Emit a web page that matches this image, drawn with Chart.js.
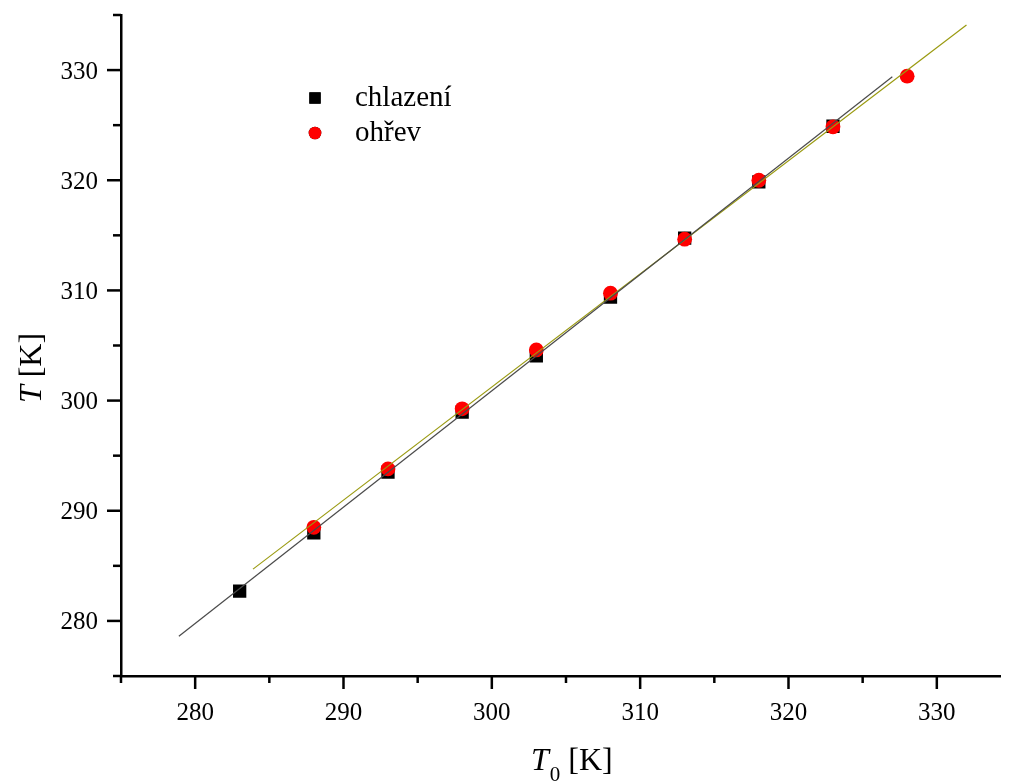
<!DOCTYPE html>
<html>
<head>
<meta charset="utf-8">
<title>T vs T0</title>
<script src="https://cdn.jsdelivr.net/npm/chart.js@4/dist/chart.umd.min.js"></script>
<style>
  html, body { margin: 0; padding: 0; background: #fff; }
  #wrap { width: 1010px; height: 784px; }
</style>
</head>
<body>
<div id="wrap"><canvas id="chart" width="1010" height="784"></canvas></div>
<script>
// measured points, T0 -> T
const coolT0 = [283, 288, 293, 298, 303, 308, 313, 318, 323];
const coolT = [282.7, 288.0, 293.5, 298.95, 304.05, 309.4, 314.75, 319.85, 324.9];
const heatT0 = [288, 293, 298, 303, 308, 313, 318, 323, 328];
const heatT = [288.5, 293.8, 299.25, 304.6, 309.75, 314.65, 320.0, 324.85, 329.45];

// linear fit endpoints
const coolFitX = [278.9, 327.0];
const coolFitY = [278.6, 329.4];
const heatFitX = [283.9, 332.0];
const heatFitY = [284.7, 334.1];

// tick positions (labels only on multiples of 10)
const xTicks = [275, 280, 285, 290, 295, 300, 305, 310, 315, 320, 325, 330];
const yTicks = [275, 280, 285, 290, 295, 300, 305, 310, 315, 320, 325, 330, 335];

const FONT = "'Liberation Serif', 'Times New Roman', serif";

const toXY = (xs, ys) => xs.map((x, i) => ({ x: x, y: ys[i] }));
const isMajor = v => v % 10 === 0;

// outward ticks + labels, axis titles and the inline legend
const decorPlugin = {
  id: 'decor',
  afterDraw(chart) {
    const ctx = chart.ctx;
    const xs = chart.scales.x;
    const ys = chart.scales.y;
    const area = chart.chartArea;
    ctx.save();
    ctx.strokeStyle = '#000';
    ctx.fillStyle = '#000';
    ctx.lineWidth = 2.5;
    ctx.font = '25px ' + FONT;
    ctx.textBaseline = 'alphabetic';

    ctx.textAlign = 'center';
    xs.ticks.forEach(t => {
      const px = xs.getPixelForValue(t.value);
      ctx.beginPath();
      ctx.moveTo(px, area.bottom);
      ctx.lineTo(px, area.bottom + (isMajor(t.value) ? 13 : 7));
      ctx.stroke();
      if (isMajor(t.value)) ctx.fillText(String(t.value), px, area.bottom + 44);
    });

    ctx.textAlign = 'right';
    ys.ticks.forEach(t => {
      const py = ys.getPixelForValue(t.value);
      ctx.beginPath();
      ctx.moveTo(area.left, py);
      ctx.lineTo(area.left - (isMajor(t.value) ? 14 : 8), py);
      ctx.stroke();
      if (isMajor(t.value)) ctx.fillText(String(t.value), area.left - 23, py + 8.5);
    });

    // x title: T0 [K]
    ctx.textAlign = 'left';
    let x = 531;
    ctx.font = 'italic 32px ' + FONT;
    ctx.fillText('T', x, 770);
    x += ctx.measureText('T').width + 1;
    ctx.font = '21px ' + FONT;
    ctx.fillText('0', x, 781);
    x += ctx.measureText('0').width;
    ctx.font = '32px ' + FONT;
    ctx.fillText(' [K]', x, 770);

    // y title: T [K]
    ctx.save();
    ctx.translate(41, 368);
    ctx.rotate(-Math.PI / 2);
    ctx.font = 'italic 32px ' + FONT;
    const wT = ctx.measureText('T').width;
    ctx.font = '32px ' + FONT;
    const wK = ctx.measureText(' [K]').width;
    const yx = -(wT + wK) / 2;
    ctx.font = 'italic 32px ' + FONT;
    ctx.fillText('T', yx, 0);
    ctx.font = '32px ' + FONT;
    ctx.fillText(' [K]', yx + wT, 0);
    ctx.restore();

    // legend
    const items = [
      { ds: chart.data.datasets[2], y: 98, r: 8 },
      { ds: chart.data.datasets[3], y: 133, r: 6.3 }
    ];
    ctx.font = '29px ' + FONT;
    ctx.textBaseline = 'middle';
    items.forEach(it => {
      Chart.helpers.drawPoint(ctx, {
        pointStyle: it.ds.pointStyle,
        radius: it.r,
        borderWidth: 0
      }, 315, it.y);
      ctx.fillStyle = it.ds.backgroundColor;
      ctx.fill();
      ctx.fillStyle = '#000';
      ctx.fillText(it.ds.label, 355, it.y);
    });
    ctx.restore();
  }
};

new Chart(document.getElementById('chart'), {
  type: 'scatter',
  data: {
    datasets: [
      {
        label: 'fit chlazení',
        data: toXY(coolFitX, coolFitY),
        showLine: true,
        borderColor: '#4a4a4a',
        borderWidth: 1.2,
        pointRadius: 0,
        order: 0
      },
      {
        label: 'fit ohřev',
        data: toXY(heatFitX, heatFitY),
        showLine: true,
        borderColor: '#9a9a10',
        borderWidth: 1.2,
        pointRadius: 0,
        order: 0
      },
      {
        label: 'chlazení',
        data: toXY(coolT0, coolT),
        pointStyle: 'rect',
        pointRadius: 9.4,
        pointHoverRadius: 9.4,
        backgroundColor: '#000',
        borderWidth: 0,
        order: 2
      },
      {
        label: 'ohřev',
        data: toXY(heatT0, heatT),
        pointStyle: 'circle',
        pointRadius: 7.4,
        pointHoverRadius: 7.4,
        backgroundColor: '#ff0000',
        borderWidth: 0,
        order: 1
      }
    ]
  },
  options: {
    responsive: false,
    animation: false,
    events: [],
    layout: { padding: { top: 15, right: 2, left: 0, bottom: 0 } },
    plugins: {
      legend: { display: false },
      tooltip: { enabled: false }
    },
    scales: {
      x: {
        type: 'linear',
        min: 275,
        max: 334.3,
        grid: { display: false },
        border: { display: true, color: '#000', width: 2.5 },
        ticks: { display: false, padding: 0 },
        afterBuildTicks: s => { s.ticks = xTicks.map(v => ({ value: v })); },
        afterFit: s => { s.height = 108; }
      },
      y: {
        type: 'linear',
        min: 275,
        max: 335,
        grid: { display: false },
        border: { display: true, color: '#000', width: 2.5 },
        ticks: { display: false, padding: 0 },
        afterBuildTicks: s => { s.ticks = yTicks.map(v => ({ value: v })); },
        afterFit: s => { s.width = 121; }
      }
    }
  },
  plugins: [decorPlugin]
});
</script>
</body>
</html>
